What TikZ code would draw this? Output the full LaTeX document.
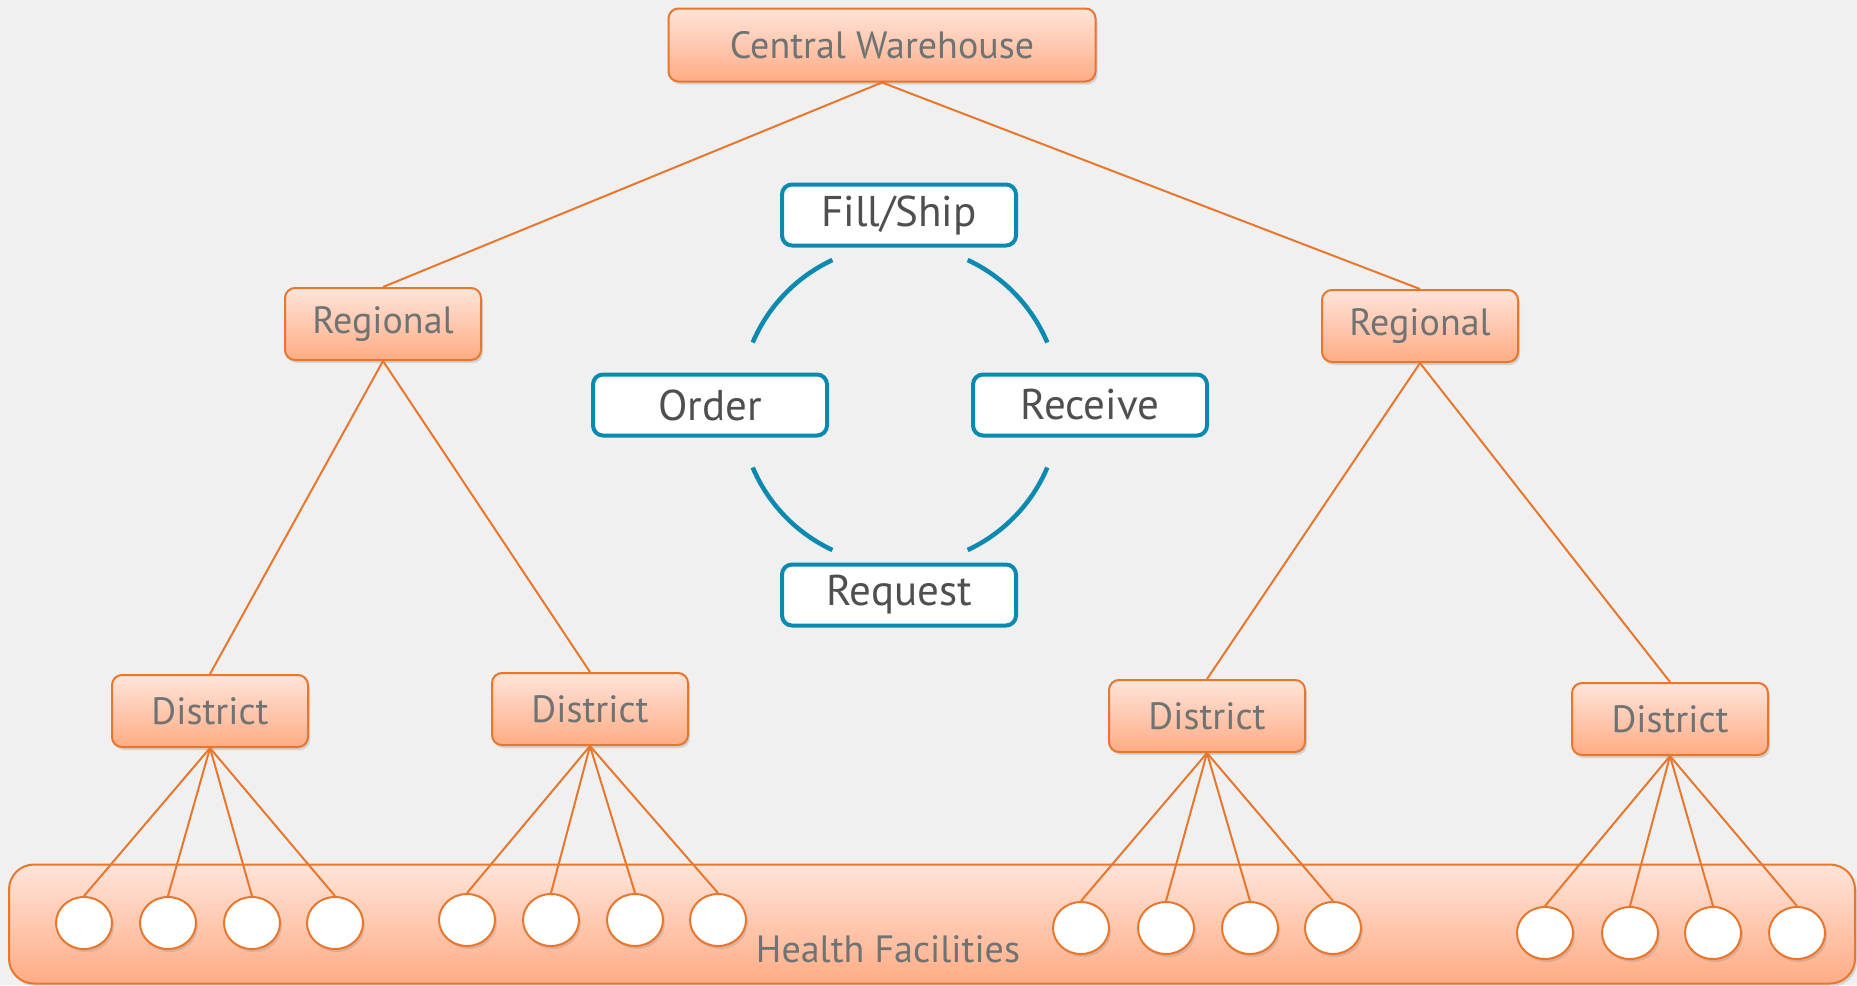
\documentclass[tikz,border=0pt]{standalone}
\usepackage{fontspec}
\setmainfont{PT Sans}
\usetikzlibrary{shapes.geometric,shadows}
\definecolor{bg}{HTML}{F0F0F0}
\definecolor{org}{HTML}{E8772E}
\definecolor{orgtop}{HTML}{FFE4DA}
\definecolor{orgbot}{HTML}{FFAC84}
\definecolor{cyan}{HTML}{0B8AB1}
\definecolor{txtgray}{HTML}{6F7374}
\definecolor{txtdark}{HTML}{4F4F4F}
\begin{document}
\begin{tikzpicture}
[x=1pt,y=-1pt,
 shd/.style={drop shadow={opacity=0.25,shadow xshift=2pt,shadow yshift=-3pt}},
 lvl/.style={draw=org,line width=2pt,rounded corners=10pt,top color=orgtop,bottom color=orgbot,
   text=txtgray,font=\fontsize{38}{40}\selectfont,minimum width=196pt,minimum height=72pt,shd},
 fac/.style={draw=org,line width=2pt,fill=white,ellipse,minimum width=56pt,minimum height=52pt,inner sep=0pt,shd},
 band/.style={draw=org,line width=2pt,rounded corners=25pt,top color=orgtop,bottom color=orgbot,shd},
 stage/.style={draw=cyan,line width=4pt,rounded corners=10pt,fill=white,text=txtdark,
   font=\fontsize{43}{45}\selectfont,minimum width=234pt,minimum height=61pt},
 ln/.style={draw=org,line width=2pt},
 cyc/.style={draw=cyan,line width=4.5pt}]
\fill [bg] (0,0) rectangle (1857,985);
\useasboundingbox (0,0) rectangle (1857,985);

% health facilities band
\node [band,minimum width=1846pt,minimum height=119pt] at (932,924) (hf) {};
\node [text=txtgray,font=\fontsize{38}{40}\selectfont] at (888,949) (hftext) {Health Facilities};

% hierarchy
\node [lvl,minimum width=427pt,minimum height=73pt] at (882,45) (cw) {Central Warehouse};
\node [lvl] at (383,324) (rl) {Regional};
\node [lvl] at (1420,326) (rr) {Regional};
\node [lvl] at (210,711) (d1) {District};
\node [lvl] at (590,709) (d2) {District};
\node [lvl] at (1207,716) (d3) {District};
\node [lvl] at (1670,719) (d4) {District};

\node [fac] at (84,923) (f1) {};
\node [fac] at (168,923) (f2) {};
\node [fac] at (252,923) (f3) {};
\node [fac] at (335,923) (f4) {};
\node [fac] at (467,920) (f5) {};
\node [fac] at (551,920) (f6) {};
\node [fac] at (635,920) (f7) {};
\node [fac] at (718,920) (f8) {};
\node [fac] at (1081,928) (f9) {};
\node [fac] at (1166,928) (f10) {};
\node [fac] at (1250,928) (f11) {};
\node [fac] at (1333,928) (f12) {};
\node [fac] at (1545,933) (f13) {};
\node [fac] at (1630,933) (f14) {};
\node [fac] at (1713,933) (f15) {};
\node [fac] at (1797,933) (f16) {};

\draw [ln] (cw.south) -- (rl.north);
\draw [ln] (cw.south) -- (rr.north);
\draw [ln] (rl.south) -- (d1.north);
\draw [ln] (rl.south) -- (d2.north);
\draw [ln] (rr.south) -- (d3.north);
\draw [ln] (rr.south) -- (d4.north);
\draw [ln] (d1.south) -- (f1.north);
\draw [ln] (d1.south) -- (f2.north);
\draw [ln] (d1.south) -- (f3.north);
\draw [ln] (d1.south) -- (f4.north);
\draw [ln] (d2.south) -- (f5.north);
\draw [ln] (d2.south) -- (f6.north);
\draw [ln] (d2.south) -- (f7.north);
\draw [ln] (d2.south) -- (f8.north);
\draw [ln] (d3.south) -- (f9.north);
\draw [ln] (d3.south) -- (f10.north);
\draw [ln] (d3.south) -- (f11.north);
\draw [ln] (d3.south) -- (f12.north);
\draw [ln] (d4.south) -- (f13.north);
\draw [ln] (d4.south) -- (f14.north);
\draw [ln] (d4.south) -- (f15.north);
\draw [ln] (d4.south) -- (f16.north);

% ordering cycle
\coordinate (ctr) at (900,405);
\node [stage] at (899,215) (fill) {Fill/Ship};
\node [stage] at (710,405) (order) {Order};
\node [stage] at (1090,405) (recv) {Receive};
\node [stage] at (899,595) (req) {Request};
\draw [cyc] ([shift={(-115:160)}]ctr) arc [start angle=-115,end angle=-157,radius=160];
\draw [cyc] ([shift={(-23:160)}]ctr) arc [start angle=-23,end angle=-65,radius=160];
\draw [cyc] ([shift={(-203:160)}]ctr) arc [start angle=-203,end angle=-245,radius=160];
\draw [cyc] ([shift={(-295:160)}]ctr) arc [start angle=-295,end angle=-337,radius=160];
\end{tikzpicture}
\end{document}
